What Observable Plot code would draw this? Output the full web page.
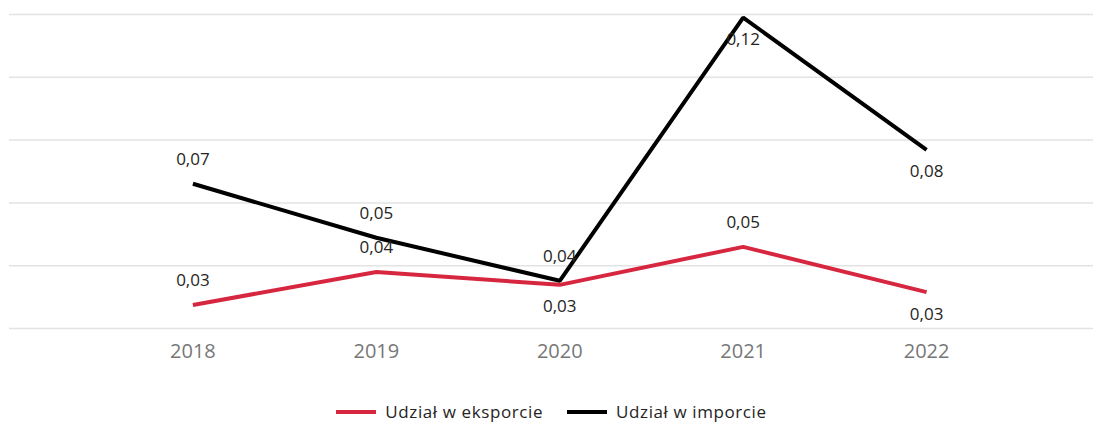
<!DOCTYPE html>
<html>
<head>
<meta charset="utf-8">
<script src="https://cdn.jsdelivr.net/npm/d3@7"></script>
<script src="https://cdn.jsdelivr.net/npm/@observablehq/plot@0.6"></script>
<style>
  html, body { margin: 0; padding: 0; background: #fff; }
  body { width: 1093px; height: 423px; overflow: hidden; font-family: "Open Sans", "Noto Sans", sans-serif; }
  #legend { display: flex; justify-content: center; align-items: center; height: 43px; padding-top: 20px; padding-left: 10px; box-sizing: border-box; font-size: 17px; letter-spacing: 0.6px; color: #252423; }
  .item { display: flex; align-items: center; margin: 0 12px; }
  .sw { width: 40px; height: 4px; margin-right: 9px; }
</style>
</head>
<body>
<div id="chart"></div>
<div id="legend"></div>
<script>
// ---- data ----
const years = [2018, 2019, 2020, 2021, 2022];
const exportShare = [0.0275, 0.0380, 0.0339, 0.0460, 0.0316];
const importShare = [0.0661, 0.0489, 0.0352, 0.1190, 0.0769];
const seriesNames = ["Udział w eksporcie", "Udział w imporcie"];
const seriesColors = ["#D7263F", "#000000"];
const gridTicks = [0.02, 0.04, 0.06, 0.08, 0.10, 0.12];

// labels placed below the point (placement only)
const belowExport = new Set([2020, 2022]);
const belowImport = new Set([2021, 2022]);

const rows = [];
years.forEach((yr, i) => {
  rows.push({year: yr, value: exportShare[i], series: seriesNames[0], below: belowExport.has(yr)});
  rows.push({year: yr, value: importShare[i], series: seriesNames[1], below: belowImport.has(yr)});
});
const fmt = v => d3.format(".2f")(v).replace(".", ",");

const chart = Plot.plot({
  width: 1093,
  height: 380,
  marginTop: 14,
  marginBottom: 52,
  marginLeft: 9,
  marginRight: 0,
  style: {fontFamily: "'Open Sans', 'Noto Sans', sans-serif", background: "#fff", overflow: "visible"},
  x: {type: "linear", domain: [2017, 2022.91], axis: null, label: null},
  y: {domain: [0.02, 0.12], axis: null, label: null},
  color: {domain: seriesNames, range: seriesColors},
  marks: [
    Plot.ruleY(gridTicks, {stroke: "#e3e3e3", strokeWidth: 1.5}),
    Plot.axisX(years, {tickSize: 0, tickPadding: 15, fontSize: 20, fill: "#777", label: null, tickFormat: d => String(d)}),
    Plot.line(rows, {x: "year", y: "value", z: "series", stroke: "series", strokeWidth: 4, strokeLinejoin: "miter", strokeLinecap: "butt"}),
    Plot.text(rows.filter(d => !d.below), {x: "year", y: "value", text: d => fmt(d.value), dy: -24, fontSize: 17, fill: "#252423", lineAnchor: "middle"}),
    Plot.text(rows.filter(d => d.below), {x: "year", y: "value", text: d => fmt(d.value), dy: 22, fontSize: 17, fill: "#252423", lineAnchor: "middle"})
  ]
});
document.getElementById("chart").appendChild(chart);

const legend = document.getElementById("legend");
seriesNames.forEach((name, i) => {
  const item = document.createElement("div");
  item.className = "item";
  const sw = document.createElement("span");
  sw.className = "sw";
  sw.style.background = seriesColors[i];
  const t = document.createElement("span");
  t.textContent = name;
  item.appendChild(sw);
  item.appendChild(t);
  legend.appendChild(item);
});
</script>
</body>
</html>
